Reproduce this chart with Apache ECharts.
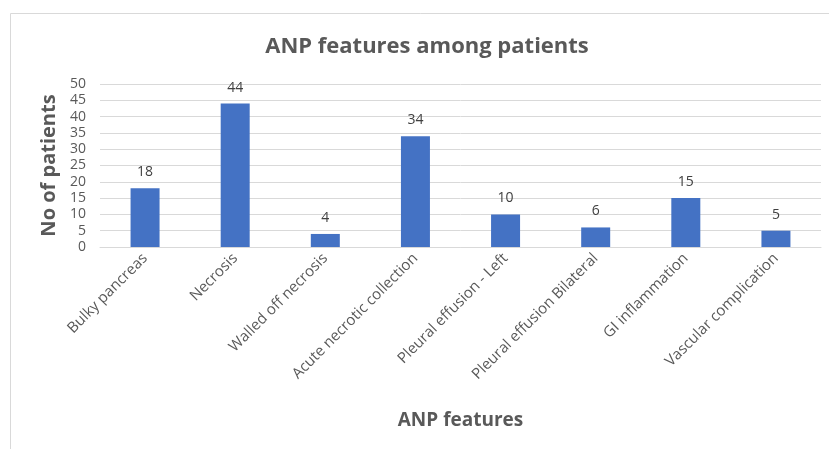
<!DOCTYPE html>
<html>
<head>
<meta charset="utf-8">
<script src="https://cdn.jsdelivr.net/npm/echarts@6/dist/echarts.min.js"></script>
<style>
  html, body { margin: 0; padding: 0; background: #fff; }
  #chart { width: 829px; height: 449px; }
</style>
</head>
<body>
<div id="chart"></div>
<script>
  var categories = ['Bulky pancreas', 'Necrosis', 'Walled off necrosis', 'Acute necrotic collection',
    'Pleural effusion - Left', 'Pleural effusion Bilateral', 'GI inflammation', 'Vascular complication'];
  var patients = [18, 44, 4, 34, 10, 6, 15, 5];
  var yTicks = [0, 50, 5]; // min, max, interval

  var font = '"Open Sans", "Noto Sans", sans-serif';
  var myChart = echarts.init(document.getElementById('chart'));
  var option = {
    animation: false,
    textStyle: { fontFamily: font },
    graphic: [{
      type: 'rect',
      shape: { x: 10.5, y: 13.5, width: 840, height: 460 },
      style: { fill: 'none', stroke: '#d9d9d9', lineWidth: 1 },
      silent: true
    }],
    title: {
      text: 'ANP features among patients',
      left: 422,
      top: 31,
      textAlign: 'center',
      textStyle: { fontFamily: font, fontSize: 22, fontWeight: 'bold', color: '#595959' }
    },
    grid: { left: 100, right: 8, top: 84, bottom: 202 },
    xAxis: {
      type: 'category',
      data: categories,
      name: 'ANP features',
      nameLocation: 'middle',
      nameGap: 164,
      nameTextStyle: { fontFamily: font, fontSize: 19, fontWeight: 'bold', color: '#595959' },
      axisLine: { lineStyle: { color: '#d9d9d9' } },
      axisTick: { show: false },
      axisLabel: { rotate: 45, margin: 9, interval: 0, fontSize: 15, color: '#595959', fontFamily: font }
    },
    yAxis: {
      type: 'value',
      min: yTicks[0],
      max: yTicks[1],
      interval: yTicks[2],
      name: 'No of patients',
      nameLocation: 'middle',
      nameGap: 41,
      nameTextStyle: { fontFamily: font, fontSize: 20, fontWeight: 'bold', color: '#595959' },
      axisLine: { show: false },
      axisTick: { show: false },
      splitLine: { lineStyle: { color: '#d9d9d9', width: 1 } },
      axisLabel: { margin: 14, fontSize: 14, color: '#595959', fontFamily: font }
    },
    series: [{
      type: 'bar',
      data: patients,
      barWidth: 29,
      itemStyle: { color: '#4472c4' },
      label: { show: true, position: 'top', distance: 9, fontSize: 14, color: '#404040', fontFamily: font }
    }]
  };
  myChart.setOption(option);
</script>
</body>
</html>
